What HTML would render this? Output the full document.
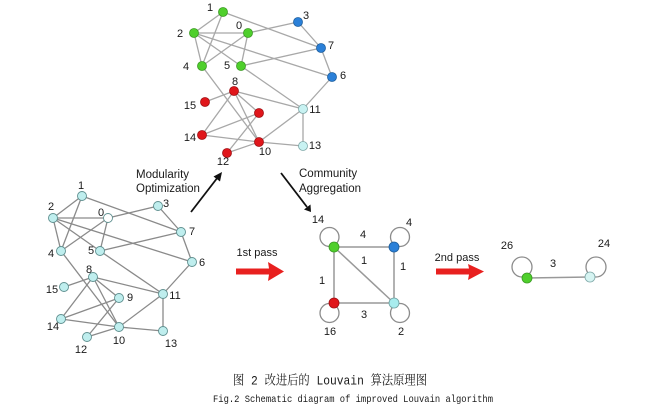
<!DOCTYPE html>
<html><head><meta charset="utf-8"><style>
html,body{margin:0;padding:0;background:#fff;}
svg{display:block;}
text{font-family:"Liberation Sans",sans-serif;fill:#1a1a1a;}
</style></head><body>
<svg width="647" height="420" viewBox="0 0 647 420" xmlns="http://www.w3.org/2000/svg">
<!-- TOP GRAPH edges -->
<g stroke="#a8a8a8" stroke-width="1.3" fill="none">
<line x1="223" y1="12" x2="194" y2="33"/>
<line x1="223" y1="12" x2="202" y2="66"/>
<line x1="223" y1="12" x2="321" y2="48"/>
<line x1="194" y1="33" x2="248" y2="33"/>
<line x1="194" y1="33" x2="202" y2="66"/>
<line x1="194" y1="33" x2="241" y2="66"/>
<line x1="194" y1="33" x2="332" y2="77"/>
<line x1="248" y1="33" x2="202" y2="66"/>
<line x1="248" y1="33" x2="241" y2="66"/>
<line x1="248" y1="33" x2="298" y2="22"/>
<line x1="298" y1="22" x2="321" y2="48"/>
<line x1="321" y1="48" x2="241" y2="66"/>
<line x1="321" y1="48" x2="332" y2="77"/>
<line x1="332" y1="77" x2="303" y2="109"/>
<line x1="202" y1="66" x2="259" y2="142"/>
<line x1="241" y1="66" x2="303" y2="109"/>
<line x1="234" y1="91" x2="205" y2="102"/>
<line x1="234" y1="91" x2="303" y2="109"/>
<line x1="234" y1="91" x2="202" y2="135"/>
<line x1="234" y1="91" x2="259" y2="142"/>
<line x1="234" y1="91" x2="259" y2="113"/>
<line x1="259" y1="113" x2="202" y2="135"/>
<line x1="259" y1="113" x2="227" y2="153"/>
<line x1="202" y1="135" x2="259" y2="142"/>
<line x1="227" y1="153" x2="259" y2="142"/>
<line x1="259" y1="142" x2="303" y2="146"/>
<line x1="259" y1="142" x2="303" y2="109"/>
<line x1="303" y1="109" x2="303" y2="146"/>
</g>
<!-- TOP nodes -->
<g stroke-width="0.8">
<g fill="#4fcf2c" stroke="#3a9a22">
<circle cx="223" cy="12" r="4.5"/><circle cx="194" cy="33" r="4.5"/><circle cx="248" cy="33" r="4.5"/><circle cx="202" cy="66" r="4.5"/><circle cx="241" cy="66" r="4.5"/>
</g>
<g fill="#2b80d8" stroke="#1e5f9e">
<circle cx="298" cy="22" r="4.5"/><circle cx="321" cy="48" r="4.5"/><circle cx="332" cy="77" r="4.5"/>
</g>
<g fill="#e0161b" stroke="#a01014">
<circle cx="234" cy="91" r="4.5"/><circle cx="205" cy="102" r="4.5"/><circle cx="259" cy="113" r="4.5"/><circle cx="202" cy="135" r="4.5"/><circle cx="259" cy="142" r="4.5"/><circle cx="227" cy="153" r="4.5"/>
</g>
<g fill="#c8f2f2" stroke="#7fa8a8">
<circle cx="303" cy="109" r="4.5"/><circle cx="303" cy="146" r="4.5"/>
</g>
</g>
<g font-size="11" text-anchor="middle" dominant-baseline="central">
<text x="210" y="8">1</text><text x="306" y="16">3</text><text x="239" y="26">0</text><text x="180" y="34">2</text>
<text x="331" y="46">7</text><text x="186" y="67">4</text><text x="227" y="66">5</text><text x="343" y="76">6</text>
<text x="235" y="82">8</text><text x="190" y="106">15</text><text x="315" y="110">11</text><text x="190" y="138">14</text>
<text x="315" y="146">13</text><text x="265" y="152">10</text><text x="223" y="162">12</text>
</g>

<!-- BOTTOM-LEFT GRAPH edges -->
<g stroke="#8a8a8a" stroke-width="1.3" fill="none">
<line x1="82" y1="196" x2="53" y2="218"/>
<line x1="82" y1="196" x2="61" y2="251"/>
<line x1="82" y1="196" x2="181" y2="232"/>
<line x1="53" y1="218" x2="108" y2="218"/>
<line x1="53" y1="218" x2="61" y2="251"/>
<line x1="53" y1="218" x2="100" y2="251"/>
<line x1="53" y1="218" x2="192" y2="262"/>
<line x1="108" y1="218" x2="61" y2="251"/>
<line x1="108" y1="218" x2="100" y2="251"/>
<line x1="108" y1="218" x2="158" y2="206"/>
<line x1="158" y1="206" x2="181" y2="232"/>
<line x1="181" y1="232" x2="100" y2="251"/>
<line x1="181" y1="232" x2="192" y2="262"/>
<line x1="192" y1="262" x2="163" y2="294"/>
<line x1="61" y1="251" x2="119" y2="327"/>
<line x1="100" y1="251" x2="163" y2="294"/>
<line x1="93" y1="277" x2="64" y2="287"/>
<line x1="93" y1="277" x2="163" y2="294"/>
<line x1="93" y1="277" x2="61" y2="319"/>
<line x1="93" y1="277" x2="119" y2="327"/>
<line x1="93" y1="277" x2="119" y2="298"/>
<line x1="119" y1="298" x2="61" y2="319"/>
<line x1="119" y1="298" x2="87" y2="337"/>
<line x1="61" y1="319" x2="119" y2="327"/>
<line x1="87" y1="337" x2="119" y2="327"/>
<line x1="119" y1="327" x2="163" y2="331"/>
<line x1="119" y1="327" x2="163" y2="294"/>
<line x1="163" y1="294" x2="163" y2="331"/>
</g>
<g fill="#bfeeee" stroke="#5f9090" stroke-width="0.9">
<circle cx="82" cy="196" r="4.5"/><circle cx="158" cy="206" r="4.5"/><circle cx="53" cy="218" r="4.5"/>
<circle cx="108" cy="218" r="4.5" fill="#ffffff"/>
<circle cx="181" cy="232" r="4.5"/><circle cx="61" cy="251" r="4.5"/><circle cx="100" cy="251" r="4.5"/>
<circle cx="192" cy="262" r="4.5"/><circle cx="93" cy="277" r="4.5"/><circle cx="64" cy="287" r="4.5"/>
<circle cx="119" cy="298" r="4.5"/><circle cx="163" cy="294" r="4.5"/><circle cx="61" cy="319" r="4.5"/>
<circle cx="119" cy="327" r="4.5"/><circle cx="163" cy="331" r="4.5"/><circle cx="87" cy="337" r="4.5"/>
</g>
<g font-size="11" text-anchor="middle" dominant-baseline="central">
<text x="81" y="186">1</text><text x="166" y="204">3</text><text x="101" y="213">0</text><text x="51" y="207">2</text>
<text x="192" y="232">7</text><text x="51" y="254">4</text><text x="91" y="251">5</text><text x="202" y="263">6</text>
<text x="89" y="270">8</text><text x="52" y="290">15</text><text x="130" y="298">9</text><text x="175" y="296">11</text>
<text x="53" y="327">14</text><text x="119" y="341">10</text><text x="171" y="344">13</text><text x="81" y="350">12</text>
</g>

<!-- Arrows and labels -->
<g font-size="11.5" dominant-baseline="central">
<text x="136" y="175">Modularity</text>
<text x="136" y="189">Optimization</text>
<text x="299" y="174">Community</text>
<text x="299" y="189">Aggregation</text>
</g>
<g stroke="#111" stroke-width="1.8">
<line x1="191" y1="212" x2="218" y2="177"/>
<line x1="281" y1="173" x2="307" y2="207"/>
</g>
<polygon points="222,172 213.5,176.5 220,181.5" fill="#111"/>
<polygon points="311,212 304,209.5 310.5,204.5" fill="#111"/>

<g font-size="11" text-anchor="middle" dominant-baseline="central">
<text x="257" y="253">1st pass</text>
<text x="457" y="258">2nd pass</text>
</g>
<polygon points="236,268.5 269,268.5 268,262 284,271.5 268,281 269,274.5 236,274.5" fill="#e8201f"/>
<polygon points="436,268.5 469,268.5 468,264 484,271.5 468,280 469,274.5 436,274.5" fill="#e8201f"/>

<!-- MIDDLE GRAPH -->
<g stroke="#8c8c8c" stroke-width="1.3" fill="none">
<circle cx="329.5" cy="237" r="9.5"/>
<circle cx="400" cy="237" r="9.5"/>
<circle cx="329.5" cy="313" r="9.5"/>
<circle cx="400" cy="313" r="9.5"/>
</g>
<g stroke="#999" stroke-width="1.5">
<line x1="334" y1="247" x2="394" y2="247"/>
<line x1="334" y1="247" x2="334" y2="303"/>
<line x1="394" y1="247" x2="394" y2="303"/>
<line x1="334" y1="303" x2="394" y2="303"/>
<line x1="334" y1="247" x2="394" y2="303"/>
</g>
<circle cx="334" cy="247" r="5" fill="#4fcf2c" stroke="#3a9a22" stroke-width="0.8"/>
<circle cx="394" cy="247" r="5" fill="#2b80d8" stroke="#1e5f9e" stroke-width="0.8"/>
<circle cx="334" cy="303" r="5" fill="#e0161b" stroke="#a01014" stroke-width="0.8"/>
<circle cx="394" cy="303" r="5" fill="#a8ecee" stroke="#6fa0a0" stroke-width="0.8"/>
<g font-size="11" text-anchor="middle" dominant-baseline="central">
<text x="318" y="220">14</text><text x="363" y="235">4</text><text x="409" y="223">4</text>
<text x="364" y="261">1</text><text x="403" y="267">1</text><text x="322" y="281">1</text>
<text x="364" y="315">3</text><text x="330" y="332">16</text><text x="401" y="332">2</text>
</g>

<!-- RIGHT GRAPH -->
<g stroke="#8c8c8c" stroke-width="1.3" fill="none">
<circle cx="522" cy="267" r="10"/>
<circle cx="596" cy="267" r="10"/>
</g>
<line x1="527" y1="278" x2="590" y2="277" stroke="#999" stroke-width="1.5"/>
<circle cx="527" cy="278" r="5" fill="#4fcf2c" stroke="#3a9a22" stroke-width="0.8"/>
<circle cx="590" cy="277" r="5" fill="#d6f4f2" stroke="#7fa8a8" stroke-width="0.8"/>
<g font-size="11" text-anchor="middle" dominant-baseline="central">
<text x="507" y="246">26</text><text x="553" y="264">3</text><text x="604" y="244">24</text>
</g>

<!-- Captions -->
<text x="233" y="384.5" font-size="13" textLength="194" lengthAdjust="spacingAndGlyphs" style="font-family:'Liberation Mono','Noto Serif CJK SC',serif;">图 2 改进后的 Louvain 算法原理图</text>
<text x="213" y="402" font-size="10.5" textLength="280" lengthAdjust="spacingAndGlyphs" style="font-family:'Liberation Mono',monospace;">Fig.2 Schematic diagram of improved Louvain algorithm</text>
</svg>
</body></html>
